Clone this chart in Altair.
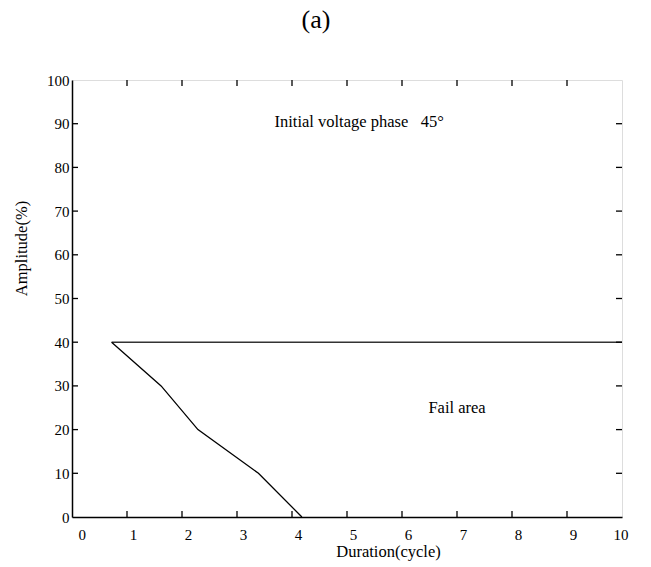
import altair as alt
import pandas as pd

curve_x = [0.72, 1.62, 2.29, 3.39, 4.18]
curve_y = [40, 30, 20, 10, 0]
hline_x = [0.72, 10]
hline_y = [40, 40]
x_ticks = [0, 1, 2, 3, 4, 5, 6, 7, 8, 9, 10]
y_ticks = [0, 10, 20, 30, 40, 50, 60, 70, 80, 90, 100]
notes = ["Initial voltage phase\u00a0\u00a0\u00a045°", "Fail area"]
notes_x = [5.22, 7.0]
notes_y = [90.5, 25.0]

W, H = 550, 437
FONT = "Liberation Serif"

curve = pd.DataFrame({"x": curve_x, "y": curve_y})
hline = pd.DataFrame({"x": hline_x, "y": hline_y})
xt = pd.DataFrame({"x": x_ticks[1:-1]})
yt = pd.DataFrame({"y": y_ticks[1:-1]})
nt = pd.DataFrame({"t": notes, "x": notes_x, "y": notes_y})

xs = alt.Scale(domain=[0, 10], nice=False, zero=False)
ys = alt.Scale(domain=[0, 100], nice=False)

xaxis = alt.Axis(values=x_ticks, format="d", ticks=False, labelOffset=6, labelPadding=10,
                 labelFontSize=15, labelFont=FONT, labelColor="black", grid=False,
                 domainColor="black", domainWidth=1.5,
                 title="Duration(cycle)", titleFont=FONT, titleFontSize=16.5,
                 titleFontWeight="normal", titleColor="black",
                 titleX=316, titleY=34, titleBaseline="middle", titleAnchor="start", titleAlign="center")
yaxis = alt.Axis(values=y_ticks, format="d", ticks=False, labelPadding=3,
                 labelFontSize=15, labelFont=FONT, labelColor="black", grid=False,
                 domainColor="black", domainWidth=1.5,
                 title="Amplitude(%)", titleFont=FONT, titleFontSize=16.5,
                 titleFontWeight="normal", titleColor="black",
                 titleX=-51, titleY=168, titleBaseline="middle", titleAlign="center", titleAngle=270)

base_line = alt.Chart(curve).mark_line(color="black", strokeWidth=1.3).encode(
    x=alt.X("x:Q", scale=xs, axis=xaxis),
    y=alt.Y("y:Q", scale=ys, axis=yaxis),
    order="x:Q",
)
h_line = alt.Chart(hline).mark_line(color="#333333", strokeWidth=1.5).encode(
    x=alt.X("x:Q", scale=xs), y=alt.Y("y:Q", scale=ys)
)

bottom_ticks = alt.Chart(xt).mark_rule(color="black", strokeWidth=1.3).encode(
    x=alt.X("x:Q", scale=xs), y=alt.value(H), y2=alt.value(H - 6)
)
top_ticks = alt.Chart(xt).mark_rule(color="black", strokeWidth=1.3).encode(
    x=alt.X("x:Q", scale=xs), y=alt.value(0), y2=alt.value(6)
)
left_ticks = alt.Chart(yt).mark_rule(color="black", strokeWidth=1.3).encode(
    y=alt.Y("y:Q", scale=ys), x=alt.value(0), x2=alt.value(6)
)
right_ticks = alt.Chart(yt).mark_rule(color="black", strokeWidth=1.3).encode(
    y=alt.Y("y:Q", scale=ys), x=alt.value(W), x2=alt.value(W - 6)
)

texts = alt.Chart(nt).mark_text(font=FONT, fontSize=16.5, color="black", align="center", baseline="middle").encode(
    x=alt.X("x:Q", scale=xs), y=alt.Y("y:Q", scale=ys), text="t:N"
)

chart = alt.layer(h_line, base_line, bottom_ticks, top_ticks, left_ticks, right_ticks, texts).properties(
    width=W, height=H,
    title=alt.TitleParams("(a)", font=FONT, fontSize=26, fontWeight="normal", color="black",
                          anchor="middle", dx=-31, offset=40),
    autosize=alt.AutoSizeParams(type="none"),
    padding={"left": 72, "top": 80, "right": 29, "bottom": 50},
).configure_view(stroke="black", strokeWidth=1.5).configure(background="white", font=FONT)

chart.save("out.html", embed_options={"renderer": "svg", "actions": False})
